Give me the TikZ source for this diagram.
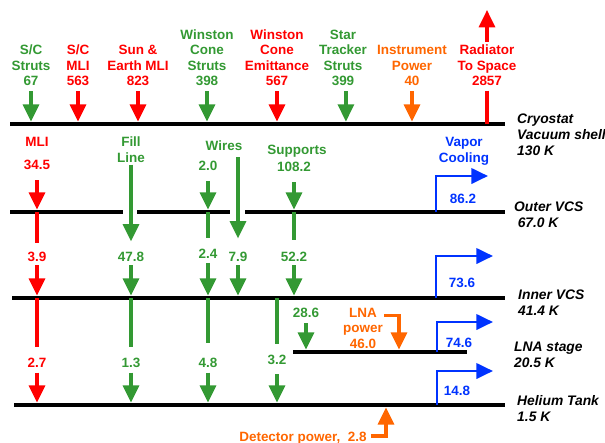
\documentclass[tikz,border=0pt]{standalone}
\usepackage{fontspec}
\setmainfont{Liberation Sans}
\usetikzlibrary{arrows.meta}
\definecolor{flowgreen}{RGB}{51,153,51}
\definecolor{flowred}{RGB}{255,0,0}
\definecolor{floworange}{RGB}{255,102,0}
\definecolor{flowblue}{RGB}{0,51,255}

\begin{document}
\begin{tikzpicture}[x=0.03cm, y=-0.03cm,
	lab/.style={anchor=base, align=center, inner sep=1pt, font=\fontsize{11.5}{13.2}\selectfont\bfseries},
	stagelab/.style={anchor=base west, align=left, inner sep=0pt, font=\fontsize{11.8}{13.4}\selectfont\bfseries\itshape},
	stage/.style={line width=3pt},
	pipe/.style={line width=2.8pt},
	flow/.style={pipe, -{Triangle[width=4.8mm, length=5.2mm]}},
	vapor/.style={flowblue, line width=2.4pt, -{Triangle[width=4.6mm, length=5mm]}}]
	\useasboundingbox (0,0) rectangle (605,443);

	% temperature stages
	\coordinate (cryo) at (10,124);
	\coordinate (outer) at (10,212);
	\coordinate (inner) at (12,298);
	\coordinate (lna) at (293,352);
	\coordinate (helium) at (14,405);
	\draw[stage] (cryo) -- (505,124);
	\draw[stage] (outer) -- (123,212) (137,212) -- (230,212) (245,212) -- (505,212);
	\draw[stage] (inner) -- (505,298);
	\draw[stage] (lna) -- (467,352);
	\draw[stage] (helium) -- (505,405);

	\node[stagelab] (cryolab) at (517,155) {Cryostat\\Vacuum shell\\130 K};
	\node[stagelab] (outerlab) at (514,227) {Outer VCS\\\hspace{3pt}67.0 K};
	\node[stagelab] (innerlab) at (518,315) {Inner VCS\\41.4 K};
	\node[stagelab] (lnalab) at (514,367) {LNA stage\\20.5 K};
	\node[stagelab] (helilab) at (517,421) {Helium Tank\\1.5 K};

	% loads on the vacuum shell
	\node[lab, flowgreen] (scstruts) at (31,85.5) {S/C\\Struts\\67};
	\node[lab, flowred] (scmli) at (78,85.5) {S/C\\MLI\\563};
	\node[lab, flowred] (sunearth) at (138,85.5) {Sun \&\\Earth MLI\\823};
	\node[lab, flowgreen] (wcstruts) at (207,85.5) {Winston\\Cone\\Struts\\398};
	\node[lab, flowred] (wcemit) at (277,85.5) {Winston\\Cone\\Emittance\\567};
	\node[lab, flowgreen] (ststruts) at (343,85.5) {Star\\Tracker\\Struts\\399};
	\node[lab, floworange] (instpow) at (412,85.5) {Instrument\\Power\\40};
	\node[lab, flowred] (radiator) at (487,85.5) {Radiator\\To Space\\2857};
	\coordinate (space) at (487,10);

	\draw[flow, flowgreen, shorten <=3.5pt, shorten >=2pt] (scstruts) -- (scstruts |- cryo);
	\draw[flow, flowred, shorten <=3.5pt, shorten >=2pt] (scmli) -- (scmli |- cryo);
	\draw[flow, flowred, shorten <=3.5pt, shorten >=2pt] (sunearth) -- (sunearth |- cryo);
	\draw[flow, flowgreen, shorten <=3.5pt, shorten >=2pt] (wcstruts) -- (wcstruts |- cryo);
	\draw[flow, flowred, shorten <=3.5pt, shorten >=2pt] (wcemit) -- (wcemit |- cryo);
	\draw[flow, flowgreen, shorten <=3.5pt, shorten >=2pt] ([xshift=2.5pt]ststruts.south) -- ([xshift=2.5pt]ststruts.south |- cryo);
	\draw[flow, floworange, shorten <=3.5pt, shorten >=2pt] (instpow) -- (instpow |- cryo);
	\draw[pipe, flowred, shorten <=3pt] (radiator) -- (radiator |- cryo);
	\draw[flow, flowred, shorten <=1pt] (radiator) -- (space);

	% MLI
	\node[lab, flowred] (mli) at (37,146) {MLI};
	\node[lab, flowred] (mlia) at (37,169) {34.5};
	\node[lab, flowred] (mlib) at (37,261) {3.9};
	\node[lab, flowred] (mlic) at (37,367) {2.7};
	\draw[flow, flowred, shorten <=8.3pt, shorten >=2pt] (mlia) -- (mlia |- outer);
	\draw[pipe, flowred, shorten >=6pt] (mlib |- outer) -- (mlib);
	\draw[flow, flowred, shorten <=2.5pt, shorten >=2pt] (mlib) -- (mlib |- inner);
	\draw[pipe, flowred, shorten >=7.5pt] (mlic |- inner) -- (mlic);
	\draw[flow, flowred, shorten <=3.5pt, shorten >=2pt] (mlic) -- (mlic |- helium);

	% fill line
	\node[lab, flowgreen] (fill) at (131,162) {Fill\\Line};
	\node[lab, flowgreen] (filla) at (131,261) {47.8};
	\node[lab, flowgreen] (fillb) at (131,367) {1.3};
	\draw[flow, flowgreen, shorten <=1pt, shorten >=7.5pt] (fill) -- (filla);
	\draw[flow, flowgreen, shorten <=2.5pt, shorten >=2pt] (filla) -- (filla |- inner);
	\draw[pipe, flowgreen, shorten >=7.5pt] (fillb |- inner) -- (fillb);
	\draw[flow, flowgreen, shorten <=3.5pt, shorten >=2pt] (fillb) -- (fillb |- helium);

	% wires
	\node[lab, flowgreen] (wires) at (224,150) {Wires};
	\node[lab, flowgreen] (wiresa) at (208,170) {2.0};
	\node[lab, flowgreen] (wiresb) at (208,258) {2.4};
	\node[lab, flowgreen] (wiresc) at (208,367) {4.8};
	\node[lab, flowgreen] (wiresd) at (238,261) {7.9};
	\draw[flow, flowgreen, shorten <=8pt, shorten >=2pt] (wiresa) -- (wiresa |- outer);
	\draw[pipe, flowgreen, shorten >=7.5pt] (wiresb |- outer) -- (wiresb);
	\draw[flow, flowgreen, shorten <=3pt, shorten >=2pt] (wiresb) -- (wiresb |- inner);
	\draw[pipe, flowgreen, shorten >=11pt] (wiresc |- inner) -- (wiresc);
	\draw[flow, flowgreen, shorten <=3.5pt, shorten >=2pt] (wiresc) -- (wiresc |- helium);
	\draw[flow, flowgreen, shorten <=5pt, shorten >=10pt] (wires.south -| wiresd) -- (wiresd);
	\draw[flow, flowgreen, shorten <=2.5pt, shorten >=2pt] (wiresd) -- (wiresd |- inner);

	% supports
	\node[lab, flowgreen] (supports) at (297,154) {Supports};
	\node[lab, flowgreen] (suppa) at (294,171) {108.2};
	\node[lab, flowgreen] (suppb) at (294,261) {52.2};
	\node[lab, flowgreen] (suppc) at (277,364) {3.2};
	\node[lab, flowgreen] (suppd) at (306,317) {28.6};
	\draw[flow, flowgreen, shorten <=8.5pt, shorten >=2pt] (suppa) -- (suppa |- outer);
	\draw[pipe, flowgreen, shorten >=9pt] (suppb |- outer) -- (suppb);
	\draw[flow, flowgreen, shorten <=2.5pt, shorten >=2pt] (suppb) -- (suppb |- inner);
	\draw[pipe, flowgreen, shorten >=7.5pt] (suppc |- inner) -- (suppc);
	\draw[flow, flowgreen, shorten <=7.5pt, shorten >=2pt] (suppc) -- (suppc |- helium);
	\draw[flow, flowgreen, shorten <=4pt, shorten >=2pt] (suppd) -- (suppd |- lna);

	% electrical power
	\node[lab, floworange] (lnapow) at (363,348) {LNA\\power\\46.0};
	\coordinate (lnain) at (399,352);
	\draw[flow, floworange, shorten >=2pt] ([yshift=-7.7pt]lnapow.north east) -| (lnain);
	\node[lab, floworange, anchor=base east] (detpow) at (368,441) {Detector power,\ \ 2.8};
	\coordinate (detin) at (386,405);
	\draw[flow, floworange, shorten <=2.5pt, shorten >=2pt] ([yshift=4.2pt]detpow.base east) -| (detin);

	% vapor cooling
	\node[lab, flowblue] (vapor) at (464,162) {Vapor\\Cooling};
	\node[lab, flowblue] (vapa) at (463,203) {86.2};
	\node[lab, flowblue] (vapb) at (462,287) {73.6};
	\node[lab, flowblue] (vapc) at (459,347) {74.6};
	\node[lab, flowblue] (vapd) at (457,395) {14.8};
	\coordinate (vapaout) at (488,176);
	\coordinate (vapbout) at (493,256);
	\coordinate (vapcout) at (493,322);
	\coordinate (vapdout) at (493,371);
	\draw[vapor] (436,212) |- (vapaout);
	\draw[vapor] (436,298) |- (vapbout);
	\draw[vapor] (437,352) |- (vapcout);
	\draw[vapor] (437,405) |- (vapdout);
\end{tikzpicture}
\end{document}
